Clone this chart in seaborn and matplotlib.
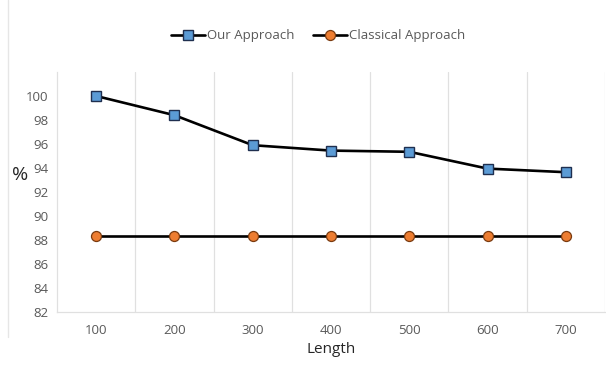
import matplotlib
matplotlib.use("Agg")
import matplotlib.pyplot as plt
from matplotlib.lines import Line2D
import seaborn as sns
import pandas as pd

# Data
lengths = [100, 200, 300, 400, 500, 600, 700]
our_approach = [100.0, 98.4, 95.9, 95.45, 95.35, 93.95, 93.65]
classical_approach = [88.3, 88.3, 88.3, 88.3, 88.3, 88.3, 88.3]
y_ticks = [82, 84, 86, 88, 90, 92, 94, 96, 98, 100]

sns.set_theme(style="white")
plt.rcParams["font.family"] = ["Open Sans", "DejaVu Sans"]

df_our = pd.DataFrame({"Length": lengths, "value": our_approach})
df_cls = pd.DataFrame({"Length": lengths, "value": classical_approach})

fig = plt.figure(figsize=(6.06, 3.74), dpi=100)
ax = fig.add_axes([57 / 606, 62 / 374, 548 / 606, 240 / 374])

grid_c = "#e0e0e0"
tick_c = "#595959"

sns.lineplot(data=df_our, x="Length", y="value", ax=ax, color="black", lw=1.9,
             marker="s", markersize=6.6, markerfacecolor="#5b9bd5",
             markeredgecolor="#1f2f4f", markeredgewidth=1.0, label="Our Approach", zorder=3)
sns.lineplot(data=df_cls, x="Length", y="value", ax=ax, color="black", lw=1.9,
             marker="o", markersize=7.2, markerfacecolor="#ed7d31",
             markeredgecolor="#7a3b10", markeredgewidth=0.9, label="Classical Approach", zorder=3)

ax.set_xlim(50, 750)
ax.set_ylim(82, 102)
ax.set_xticks(lengths)
ax.set_xticklabels([str(v) for v in lengths], fontsize=9.5, color=tick_c)
ax.set_yticks(y_ticks)
ax.set_yticklabels([str(v) for v in y_ticks], fontsize=9.5, color=tick_c)
ax.tick_params(axis="both", length=0, pad=6)
ax.tick_params(axis="x", pad=9)

# category separators
for xb in [150, 250, 350, 450, 550, 650, 750]:
    ax.axvline(xb, color=grid_c, lw=0.9, zorder=0)

for side in ["top", "right"]:
    ax.spines[side].set_visible(False)
for side in ["left", "bottom"]:
    ax.spines[side].set_color(grid_c)
    ax.spines[side].set_linewidth(0.9)

ax.set_xlabel("Length", fontsize=11, color="#262626", labelpad=3)
ax.set_ylabel("%", fontsize=14, color="#262626", rotation=0, labelpad=2)
ax.yaxis.set_label_coords(-0.068, 0.535)

ax.get_legend().remove()
handles, labels = ax.get_legend_handles_labels()
fig.legend(handles, labels, loc="center", bbox_to_anchor=(318 / 606, 1 - 36 / 374),
           ncol=2, frameon=False, fontsize=9.5, handlelength=2.6, handletextpad=0.15,
           columnspacing=1.4, labelcolor=tick_c)

# faint chart-area border on the left
fig.add_artist(Line2D([8 / 606, 8 / 606], [1 - 337 / 374, 1.0], color="#e6e6e6", lw=1.0))

fig.savefig("out.png", dpi=100, facecolor="white")
